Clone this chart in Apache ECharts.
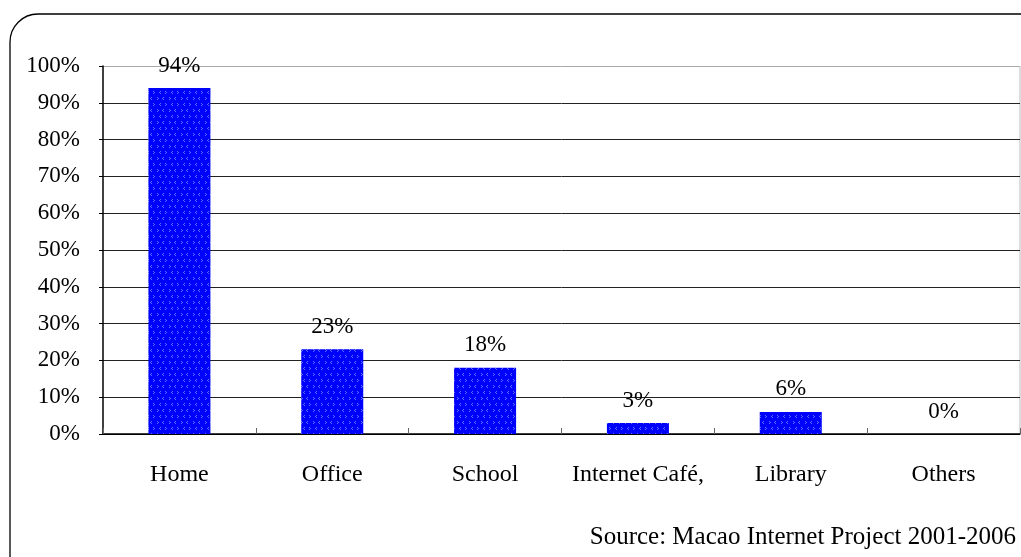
<!DOCTYPE html>
<html>
<head>
<meta charset="utf-8">
<script src="https://cdn.jsdelivr.net/npm/echarts@6/dist/echarts.min.js"></script>
<style>
  html, body { margin: 0; padding: 0; background: #fff; }
  #chart { width: 1021px; height: 557px; }
</style>
</head>
<body>
<div id="chart"></div>
<script>
// Places where people access the Internet (share of users)
const categories = ['Home', 'Office', 'School', 'Internet Café,', 'Library', 'Others'];
const shares = [94, 23, 18, 3, 6, 0];
const sourceNote = 'Source: Macao Internet Project 2001-2006';

// Small repeating tile: solid blue with faint lighter-blue chevron marks
function makeTile() {
  const c = document.createElement('canvas');
  c.width = 12; c.height = 12;
  const g = c.getContext('2d');
  g.fillStyle = '#0000ff';
  g.fillRect(0, 0, 12, 12);
  g.fillStyle = 'rgba(110,150,255,0.75)';
  const pts = [[1,1],[2,2],[1,3],[7,1],[6,2],[7,3],[4,7],[3,8],[4,9],[9,7],[10,8],[9,9]];
  pts.forEach(p => g.fillRect(p[0], p[1], 1, 1));
  return c;
}

const chart = echarts.init(document.getElementById('chart'), null, { renderer: 'canvas' });
const serif = 'Liberation Serif, Times New Roman, serif';

chart.setOption({
  animation: false,
  backgroundColor: '#ffffff',
  grid: { left: 103, right: 1, top: 66, bottom: 123, containLabel: false },
  graphic: [
    {
      type: 'rect',
      shape: { x: 10, y: 14, width: 1040, height: 580, r: 28 },
      style: { fill: 'none', stroke: '#000', lineWidth: 1.3 },
      z: -1
    },
    {
      type: 'text',
      right: 5,
      top: 525,
      style: { text: sourceNote, font: '25px ' + serif, fill: '#000' }
    },
    {
      type: 'line',
      shape: { x1: 1020, y1: 66, x2: 1020, y2: 434 },
      style: { stroke: '#bbb', lineWidth: 1 }
    }
  ],
  xAxis: {
    type: 'category',
    data: categories,
    axisLine: { lineStyle: { color: '#000', width: 1.5 } },
    axisTick: { show: true, inside: true, length: 6, interval: 0, lineStyle: { color: '#666' } },
    axisLabel: { margin: 29, interval: 0, color: '#000', fontFamily: serif, fontSize: 24 },
    splitLine: { show: false }
  },
  yAxis: {
    type: 'value',
    min: 0, max: 100, interval: 10,
    axisLine: { show: true, lineStyle: { color: '#000', width: 1.5 } },
    axisTick: { show: true, length: 4, lineStyle: { color: '#000' } },
    axisLabel: {
      margin: 23, padding: [6, 0, 0, 0], color: '#000',
      fontFamily: serif, fontSize: 23, formatter: '{value}%'
    },
    splitLine: {
      show: true,
      lineStyle: {
        color: ['#000', '#222', '#222', '#222', '#222', '#222', '#222', '#222', '#222', '#222', '#aaa'],
        width: 1
      }
    }
  },
  series: [{
    type: 'bar',
    data: shares,
    barWidth: 62,
    itemStyle: { color: { image: makeTile(), repeat: 'repeat' } },
    label: {
      show: true,
      position: 'top',
      distance: 11,
      formatter: '{c}%',
      color: '#000',
      fontFamily: serif,
      fontSize: 23
    }
  }]
});
</script>
</body>
</html>
